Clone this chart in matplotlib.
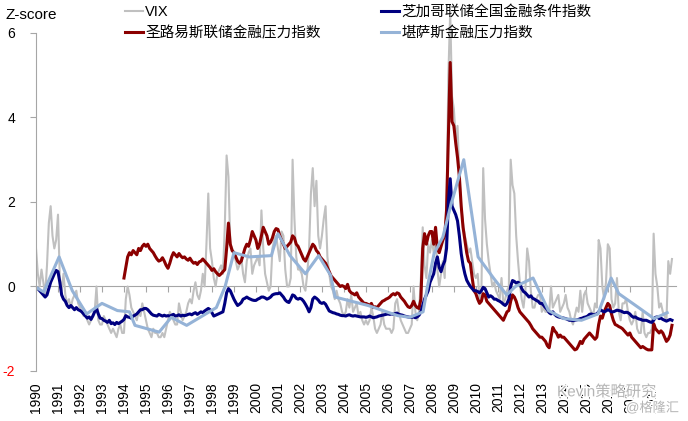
import numpy as np
import matplotlib
matplotlib.use("Agg")
import matplotlib.pyplot as plt
import matplotlib.patheffects as pe

plt.rcParams['font.family'] = ['Liberation Sans', 'Noto Sans CJK SC']

# monthly z-scores, one row per year
vix = [
    0.9, 0.3, 0.0, 0.4, 0.1, -0.2, 0.5, 1.5, 1.9, 1.2, 0.9, 1.1,          # 1990
    1.7, 0.2, -0.1, 0.3, -0.2, -0.4, -0.3, -0.5, -0.3, -0.2, -0.1, -0.4,  # 1991
    -0.5, -0.6, -0.7, -0.6, -0.8, -0.9, -0.8, -0.7, -0.6, 0.0, -0.8, -0.9,
    -0.9, -0.7, -0.8, -0.9, -1.0, -1.1, -1.0, -1.1, -1.2, -1.0, -0.9, -1.1,
    -1.1, -0.3, 0.0, -0.2, -0.5, -0.6, -0.7, -0.8, -0.6, -0.7, -0.4, -0.6,
    -0.8, -1.0, -1.1, -1.2, -1.0, -1.1, -1.1, -1.2, -1.2, -1.1, -1.2, -1.0,  # 1995
    -0.8, -0.6, -0.7, -0.8, -0.9, -0.9, -0.4, -0.6, -0.8, -0.7, -0.6, -0.4,
    -0.3, -0.4, -0.1, 0.1, -0.2, -0.3, -0.1, 0.3, 0.0, 1.0, 2.2, 0.9,
    0.6, 0.2, 0.0, 0.3, 0.4, 0.5, 0.3, 1.4, 3.1, 2.6, 1.0, 0.9,
    0.8, 0.6, 0.4, 0.5, 0.7, 0.3, 0.1, 0.6, 0.8, 0.9, 0.3, 0.5,
    0.6, 0.7, 0.5, 1.8, 0.9, 0.3, 0.1, -0.1, 0.0, 0.9, 1.1, 1.2,          # 2000
    0.9, 0.6, 1.3, 1.2, 0.4, 0.0, 0.0, 0.2, 3.0, 1.6, 0.7, 0.4,
    0.4, 0.3, 0.0, -0.1, 0.3, 0.9, 2.2, 2.8, 1.9, 2.5, 1.2, 0.9,
    1.2, 1.6, 1.9, 0.7, 0.3, 0.0, -0.1, -0.3, -0.1, -0.3, -0.4, -0.6,
    -0.7, -0.6, -0.3, -0.5, -0.2, -0.6, -0.5, -0.4, -0.7, -0.6, -0.8, -0.9,
    -0.8, -0.9, -0.8, -0.5, -0.7, -1.0, -1.1, -1.0, -0.9, -0.6, -0.9, -1.0,  # 2005
    -1.0, -1.0, -1.1, -1.0, -0.4, -0.3, -0.6, -0.8, -0.9, -1.0, -1.1, -1.1,
    -1.0, -0.9, 0.0, -0.6, -0.8, -0.6, 0.2, 1.4, 0.5, 0.2, 1.0, 0.8,
    1.1, 0.8, 1.3, 0.4, 0.0, 0.3, 0.6, 0.2, 1.8, 5.0, 6.5, 4.5,
    4.2, 3.5, 3.8, 2.6, 1.9, 1.5, 1.2, 1.0, 0.8, 0.9, 0.6, 0.3,
    0.2, 0.3, -0.3, -0.2, 2.8, 1.6, 1.0, 0.6, 0.3, 0.0, 0.1, -0.1,        # 2010
    -0.2, -0.3, 0.2, -0.4, -0.3, -0.1, 0.0, 3.0, 2.4, 2.2, 1.2, 0.6,
    0.1, -0.3, -0.5, -0.1, 0.9, 0.6, -0.1, -0.5, -0.5, -0.3, -0.2, -0.2,
    -0.6, -0.5, -0.6, -0.6, -0.6, 0.0, -0.5, -0.4, -0.3, -0.2, -0.6, -0.5,
    -0.4, -0.2, -0.5, -0.6, -0.8, -0.9, -0.7, -0.5, -0.6, -0.1, -0.6, -0.2,
    -0.1, -0.4, -0.5, -0.6, -0.7, -0.4, -0.5, 1.1, 0.9, 0.0, -0.3, 0.1,   # 2015
    1.0, 0.9, -0.3, -0.5, -0.4, 0.2, -0.6, -0.8, -0.4, -0.4, -0.3, -0.6,
    -0.8, -0.9, -0.8, -0.6, -1.0, -1.1, -1.1, -0.6, -1.1, -1.2, -1.1, -1.1,
    -1.0, 1.25, 0.3, 0.0, -0.5, -0.4, -0.6, -0.7, -0.8, 0.6, 0.3, 0.65,
]

# St. Louis Fed FSI, from Jan 1994
stl = [
    0.2, 0.45, 0.7, 0.8, 0.75, 0.85, 0.8, 0.75, 0.9, 0.85, 0.95, 1.0,     # 1994
    0.95, 1.0, 0.9, 0.85, 0.8, 0.72, 0.65, 0.6, 0.62, 0.68, 0.6, 0.5,
    0.43, 0.55, 0.7, 0.8, 0.75, 0.7, 0.78, 0.72, 0.68, 0.7, 0.65, 0.62,
    0.67, 0.6, 0.55, 0.57, 0.52, 0.58, 0.6, 0.65, 0.6, 0.55, 0.5, 0.45,
    0.38, 0.42, 0.35, 0.3, 0.26, 0.3, 0.35, 0.4, 0.9, 1.5, 1.0, 0.85,
    0.8, 0.7, 0.6, 0.55, 0.6, 0.75, 0.9, 1.0, 0.95, 1.1, 1.3, 1.2,
    1.1, 0.9, 1.0, 1.2, 1.4, 1.3, 1.2, 1.0, 1.05, 1.15, 1.3, 1.37,        # 2000
    1.35, 1.2, 1.1, 1.0, 0.9, 0.95, 1.0, 1.05, 1.2, 1.15, 1.0, 0.95,
    0.85, 0.75, 0.65, 0.6, 0.7, 0.8, 0.9, 1.0, 0.95, 0.85, 0.8, 0.7,
    0.65, 0.6, 0.55, 0.45, 0.35, 0.25, 0.2, 0.15, 0.1, 0.05, 0.0, 0.02,
    0.0, -0.05, 0.05, -0.1, -0.15, -0.17, -0.2, -0.15, -0.25, -0.3, -0.35, -0.4,
    -0.4, -0.42, -0.45, -0.4, -0.5, -0.48, -0.5, -0.45, -0.4, -0.35, -0.33, -0.3,
    -0.28, -0.25, -0.2, -0.17, -0.2, -0.15, -0.17, -0.25, -0.3, -0.35, -0.42, -0.48,
    -0.5, -0.45, -0.35, -0.45, -0.5, -0.52, -0.3, 0.9, 1.25, 1.0, 1.2, 1.3,
    1.3, 1.0, 1.4, 0.9, 0.8, 0.95, 1.1, 1.2, 1.8, 3.5, 5.3, 3.9,
    3.8, 3.4, 3.05, 2.6, 1.9, 1.4, 1.1, 0.8, 0.6, 0.55, 0.2, -0.1,
    -0.17, -0.3, -0.4, -0.35, -0.17, -0.2, -0.35, -0.4, -0.45, -0.5, -0.55, -0.6,  # 2010
    -0.65, -0.7, -0.75, -0.8, -0.7, -0.6, -0.57, -0.35, -0.2, -0.25, -0.35, -0.5,
    -0.6, -0.65, -0.7, -0.75, -0.8, -0.85, -0.92, -1.0, -1.05, -1.1, -1.15, -1.2,
    -1.2, -1.25, -1.3, -1.4, -1.45, -1.2, -0.97, -1.05, -1.1, -1.2, -1.15, -1.2,
    -1.2, -1.25, -1.3, -1.35, -1.4, -1.45, -1.5, -1.48, -1.4, -1.3, -1.35, -1.25,
    -1.2, -1.15, -1.1, -1.15, -1.2, -1.25, -1.2, -0.9, -0.7, -0.75, -0.6, -0.5,
    -0.4, -0.45, -0.65, -0.8, -0.9, -0.92, -0.95, -0.97, -1.0, -1.05, -1.1, -1.15,
    -1.1, -1.2, -1.25, -1.3, -1.35, -1.4, -1.45, -1.42, -1.45, -1.48, -1.5, -1.5,
    -1.5, -0.88, -1.0, -1.05, -1.1, -1.05, -1.1, -1.2, -1.3, -1.25, -1.15, -0.92,
]

# Chicago Fed NFCI, from Jan 1990
nfci = [
    -0.05, -0.05, -0.1, -0.15, -0.2, -0.25, -0.2, -0.05, 0.1, 0.2, 0.3, 0.38,   # 1990
    0.35, 0.1, -0.2, -0.3, -0.35, -0.45, -0.5, -0.45, -0.5, -0.55, -0.5, -0.55,
    -0.57, -0.6, -0.65, -0.7, -0.75, -0.72, -0.78, -0.7, -0.6, -0.52, -0.65, -0.75,
    -0.76, -0.8, -0.82, -0.85, -0.8, -0.88, -0.86, -0.9, -0.85, -0.88, -0.85, -0.82,
    -0.78, -0.69, -0.72, -0.73, -0.75, -0.7, -0.68, -0.65, -0.6, -0.55, -0.55, -0.52,
    -0.52, -0.55, -0.6, -0.65, -0.68, -0.69, -0.7, -0.66, -0.68, -0.7, -0.68, -0.7,  # 1995
    -0.69, -0.7, -0.68, -0.66, -0.7, -0.69, -0.67, -0.7, -0.68, -0.69, -0.68, -0.66,
    -0.65, -0.67, -0.64, -0.62, -0.66, -0.63, -0.6, -0.62, -0.58, -0.55, -0.52, -0.55,
    -0.62, -0.7, -0.68, -0.66, -0.64, -0.62, -0.6, -0.4, -0.15, -0.05, -0.1, -0.2,
    -0.3, -0.38, -0.45, -0.42, -0.38, -0.3, -0.28, -0.25, -0.28, -0.3, -0.32, -0.33,
    -0.33, -0.3, -0.28, -0.25, -0.25, -0.27, -0.3, -0.28, -0.25, -0.2, -0.18, -0.17,  # 2000
    -0.17, -0.15, -0.2, -0.25, -0.32, -0.36, -0.38, -0.3, -0.2, -0.22, -0.28, -0.3,
    -0.28, -0.3, -0.35, -0.42, -0.5, -0.6, -0.5, -0.3, -0.25, -0.28, -0.32, -0.38,
    -0.4, -0.38, -0.42, -0.5, -0.58, -0.6, -0.62, -0.63, -0.65, -0.66, -0.68, -0.69,
    -0.69, -0.7, -0.68, -0.67, -0.69, -0.7, -0.69, -0.7, -0.71, -0.72, -0.72, -0.72,
    -0.73, -0.72, -0.7, -0.72, -0.74, -0.73, -0.72, -0.7, -0.69, -0.68, -0.67, -0.66,  # 2005
    -0.65, -0.66, -0.65, -0.66, -0.64, -0.63, -0.66, -0.67, -0.68, -0.7, -0.71, -0.72,
    -0.73, -0.73, -0.72, -0.74, -0.72, -0.68, -0.6, -0.45, -0.3, -0.2, -0.1, 0.1,
    0.2, 0.3, 0.55, 0.7, 0.45, 0.35, 0.5, 0.6, 0.9, 2.0, 2.55, 1.9,
    1.8, 1.7, 1.55, 1.2, 0.78, 0.5, 0.3, 0.15, 0.07, 0.0, -0.05, -0.1,
    -0.1, -0.12, -0.15, -0.1, -0.02, -0.05, -0.15, -0.25, -0.22, -0.25, -0.3, -0.3,  # 2010
    -0.33, -0.35, -0.38, -0.42, -0.45, -0.4, -0.3, 0.0, 0.14, 0.12, 0.08, 0.1,
    0.07, -0.05, -0.12, -0.15, -0.2, -0.25, -0.22, -0.28, -0.3, -0.33, -0.35, -0.4,
    -0.4, -0.45, -0.5, -0.55, -0.62, -0.65, -0.6, -0.66, -0.7, -0.72, -0.73, -0.74,
    -0.75, -0.76, -0.78, -0.8, -0.8, -0.81, -0.8, -0.79, -0.78, -0.76, -0.75, -0.73,
    -0.72, -0.7, -0.66, -0.65, -0.67, -0.66, -0.65, -0.6, -0.55, -0.58, -0.6, -0.58,  # 2015
    -0.55, -0.57, -0.6, -0.6, -0.58, -0.56, -0.57, -0.58, -0.6, -0.62, -0.61, -0.62,
    -0.65, -0.7, -0.73, -0.72, -0.75, -0.77, -0.78, -0.8, -0.8, -0.8, -0.82, -0.84,
    -0.85, -0.8, -0.73, -0.72, -0.76, -0.75, -0.78, -0.8, -0.82, -0.8, -0.78, -0.8,
]

# Kansas City FSI (sparse points as plotted)
kc_year = [1990.0, 1990.35, 1991.05, 1991.65, 1992.3, 1993.0, 1993.7, 1994.25, 1994.5,
           1995.6, 1996.15, 1996.85, 1998.2, 1998.6, 1999.0, 1999.7, 2000.7, 2001.0,
           2001.55, 2002.25, 2002.85, 2003.4, 2003.6, 2005.1, 2006.45, 2007.0, 2007.6,
           2007.8, 2008.1, 2008.5, 2008.85, 2009.45, 2010.1, 2010.8, 2011.4, 2011.8,
           2012.6, 2013.3, 2014.0, 2014.8, 2015.55, 2016.15, 2016.5, 2017.4, 2018.1, 2018.7]
kc_value = [-0.02, -0.13, 0.7, -0.1, -0.65, -0.4, -0.57, -0.6, -0.92,
            -1.08, -0.73, -0.92, -0.5, 0.0, 0.8, 0.7, 0.73, 1.25,
            0.73, 0.3, 0.73, 0.26, -0.25, -0.45, -0.69, -0.73, -0.6,
            0.0, 0.78, 1.17, 1.9, 3.0, 0.7, 0.2, -0.2, 0.0,
            0.2, -0.57, -0.76, -0.8, -0.65, 0.2, -0.17, -0.5, -0.76, -0.62]

years = list(range(1990, 2019))
labels = ['VIX', '圣路易斯联储金融压力指数', '芝加哥联储全国金融条件指数', '堪萨斯金融压力指数']
colors = ['#c0c0c0', '#8b0000', '#000080', '#95b3d7']

t_vix = 1990 + np.arange(len(vix)) / 12
t_stl = 1994 + np.arange(len(stl)) / 12
t_nfci = 1990 + np.arange(len(nfci)) / 12

fig = plt.figure(figsize=(6.88, 4.21), dpi=100)
ax = fig.add_axes([36 / 688, 50 / 421, 640 / 688, 355 / 421])

h1, = ax.plot(t_vix, vix, color=colors[0], lw=1.5)
h2, = ax.plot(t_stl, stl, color=colors[1], lw=2.2)
h3, = ax.plot(t_nfci, nfci, color=colors[2], lw=2.2)
h4, = ax.plot(kc_year, kc_value, color=colors[3], lw=2.2)

ax.set_xlim(1990, 2019.1)
ax.set_ylim(-2, 6.4)

for s in ['top', 'right', 'bottom']:
    ax.spines[s].set_visible(False)
ax.spines['left'].set_color('#a6a6a6')
ax.spines['left'].set_bounds(-2, 6)
ax.set_yticks([-2, 0, 2, 4, 6])
ax.set_yticklabels(['-2', '0', '2', '4', '6'])
ax.tick_params(axis='y', length=4, color='#a6a6a6', labelsize=10, pad=11)
ax.get_yticklabels()[0].set_color('red')

ax.set_xticks(years)
ax.set_xticklabels([str(y) for y in years], rotation=90, fontsize=10)
ax.tick_params(axis='x', length=0, pad=8)

# zero line with year ticks
zero = ax.secondary_xaxis(2 / 8.4)
zero.spines['bottom'].set_color('#a6a6a6')
zero.set_xticks(years)
zero.tick_params(length=4, color='#a6a6a6', labelbottom=False)

fig.text(5 / 688, 1 - 15 / 421, 'Z-score', fontsize=11, va='center')

leg_kw = dict(frameon=False, fontsize=10.5, handlelength=1.25, handletextpad=0.15,
              borderpad=0, borderaxespad=0, labelspacing=0.5, loc='upper left')
fig.legend([h1, h2], labels[:2], bbox_to_anchor=(125 / 688, 1 - 5 / 421), **leg_kw)
fig.legend([h3, h4], labels[2:], bbox_to_anchor=(381 / 688, 1 - 5 / 421), **leg_kw)

# watermark
wm = [pe.withStroke(linewidth=2, foreground='white')]
fig.text(557 / 688, 1 - 392 / 421, 'Kevin策略研究', fontsize=11, color='#b4b4b4',
         va='center', path_effects=wm)
fig.text(626 / 688, 1 - 408 / 421, '@格隆汇', fontsize=9.5, color='#b4b4b4',
         va='center', path_effects=wm)

fig.savefig('out.png', dpi=100)
